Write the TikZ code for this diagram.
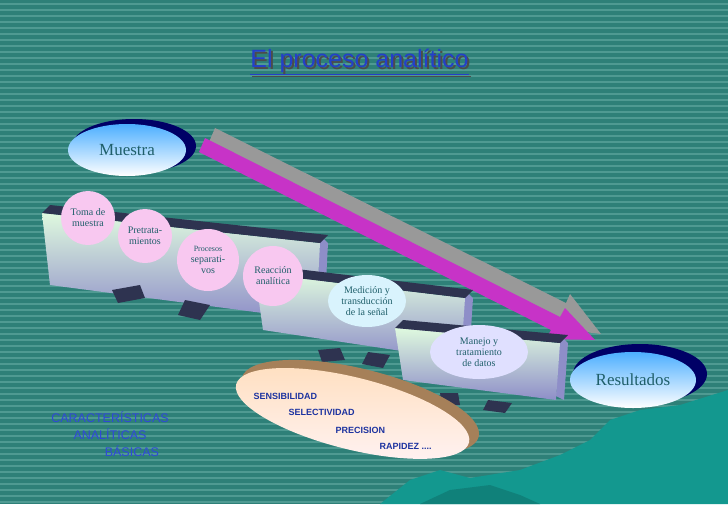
\documentclass[tikz,border=0pt]{standalone}
\usepackage{fontspec}
\setmainfont{Liberation Serif}
\newfontfamily\sans{Liberation Sans}
\usetikzlibrary{shapes.geometric,arrows.meta}
\definecolor{bg}{HTML}{2E8078}
\definecolor{stripe}{HTML}{4F9A92}
\definecolor{mount}{HTML}{13988F}
\definecolor{txt}{HTML}{1F5F6A}
\definecolor{ttl}{HTML}{2440C8}
\definecolor{lt}{HTML}{3048D8}
\definecolor{pinkc}{HTML}{F8C8F0}
\definecolor{slabtop}{HTML}{2E3350}
\definecolor{slabside}{HTML}{8E8EC8}
\tikzset{
  bub/.style={circle,fill=pinkc,draw=none,align=center,font=\fontsize{10}{11}\selectfont,text=txt,inner sep=0pt},
  eli/.style={ellipse,draw=none,align=center,font=\fontsize{10}{11}\selectfont,text=txt,inner sep=0pt},
  car/.style={font=\sans\bfseries\fontsize{9}{10}\selectfont,text=ttl!80!black,anchor=west},
  big/.style={font=\fontsize{17}{18}\selectfont,text=txt}
}
\begin{document}
\begin{tikzpicture}[x=1pt,y=-1pt]
\useasboundingbox (0,0) rectangle (728,504);
\fill[bg] (0,0) rectangle (728,504);
\foreach \y in {4,10,...,504} \draw[stripe,line width=1.2pt] (0,\y) -- (728,\y);
% mountains
\fill[mount] (380,504) -- (410,480) -- (440,470) -- (470,478) -- (520,470) -- (560,455) -- (590,440) -- (610,420) -- (640,410) -- (680,405) -- (728,390) -- (728,504) -- cycle;
\fill[mount!85!black] (420,504) -- (450,490) -- (490,485) -- (520,495) -- (540,504) -- cycle;
% arrow
\fill[gray!80] (215,128) -- (566,303) -- (570,294) -- (601,334) -- (552,328) -- (557,318) -- (209,142) -- cycle;
\fill[violet!55!magenta!80!white] (205,138) -- (560,317) -- (565,308) -- (595,340) -- (546,339) -- (551,330) -- (199,152) -- cycle;
% slabs
\foreach \xa/\ya/\xb/\yb/\h in {42/205/320/235/85, 255/265/465/290/70, 395/320/560/335/65}{
  \fill[slabside] (\xb,\yb) -- (\xb+8,\yb+8) -- (\xb+4,\yb+\h) -- (\xb-4,\yb+\h-4) -- cycle;
  \shade[top color=gray!30!green!15,bottom color=slabside] (\xa,\ya+8) -- (\xb,\yb+8) -- (\xb-4,\yb+\h) -- (\xa+8,\ya+\h-5) -- cycle;
  \fill[slabtop] (\xa,\ya+8) -- (\xa+8,\ya) -- (\xb+8,\yb) -- (\xb,\yb+8) -- cycle;
}
\fill[slabtop] (112,290) -- (140,285) -- (145,298) -- (118,303) -- cycle;
\fill[slabtop] (185,300) -- (210,305) -- (200,320) -- (178,315) -- cycle;
\fill[slabtop] (318,350) -- (340,348) -- (345,360) -- (322,362) -- cycle;
\fill[slabtop] (368,352) -- (390,355) -- (383,368) -- (362,364) -- cycle;
\fill[slabtop] (440,393) -- (458,393) -- (460,405) -- (442,405) -- cycle;
\fill[slabtop] (488,400) -- (512,403) -- (505,413) -- (483,410) -- cycle;
% Muestra
\fill[blue!40!black] (134,146) ellipse[x radius=62,y radius=27];
\node[eli,minimum width=118,minimum height=52,top color=blue!45!cyan!70,bottom color=white,big] (mu) at (127,150) {Muestra};
% Resultados
\fill[blue!40!black] (640,374) ellipse[x radius=67,y radius=30];
\node[eli,minimum width=126,minimum height=56,top color=blue!45!cyan!70,bottom color=white,big] (re) at (633,380) {Resultados};
% bubbles
\node[bub,minimum size=54] (tm) at (88,218) {Toma de\\muestra};
\node[bub,minimum size=54] (pt) at (145,236) {Pretrata-\\mientos};
\node[bub,minimum size=62,align=center] (ps) at (208,260) {{\fontsize{8}{9}\selectfont Procesos}\\separati-\\vos};
\node[bub,minimum size=60] (ra) at (273,276) {Reacción\\analítica};
\node[eli,fill=cyan!15,minimum width=78,minimum height=52] (md) at (367,301) {Medición y\\transducción\\de la señal};
\node[eli,fill=blue!12,minimum width=98,minimum height=54] (mj) at (479,352) {Manejo y\\tratamiento\\de datos};
% characteristics ellipse
\fill[brown!60!gray,rotate around={-14:(355,412)}] (359,406) ellipse[x radius=122,y radius=38];
\shade[top color=orange!25,bottom color=pink!20,rotate around={-14:(355,412)}] (353,414) ellipse[x radius=120,y radius=36];
\node[car] (s1) at (250,396) {SENSIBILIDAD};
\node[car] (s2) at (285,412) {SELECTIVIDAD};
\node[car] (s3) at (332,430) {PRECISION};
\node[car] (s4) at (376,446) {RAPIDEZ ....};
% left text
\node[font=\sans\fontsize{12.5}{17}\selectfont,text=lt,align=center] (ca) at (110,434) {CARACTERÍSTICAS\\ANALÍTICAS\\\hspace*{3.5em}BÁSICAS};
% title
\node[font=\sans\fontsize{25}{28}\selectfont,text=black!70] (tis) at (361.5,63.5) {\underline{El proceso analítico}};
\node[font=\sans\fontsize{25}{28}\selectfont,text=ttl] (ti) at (359.5,61.5) {\underline{El proceso analítico}};
\end{tikzpicture}
\end{document}
